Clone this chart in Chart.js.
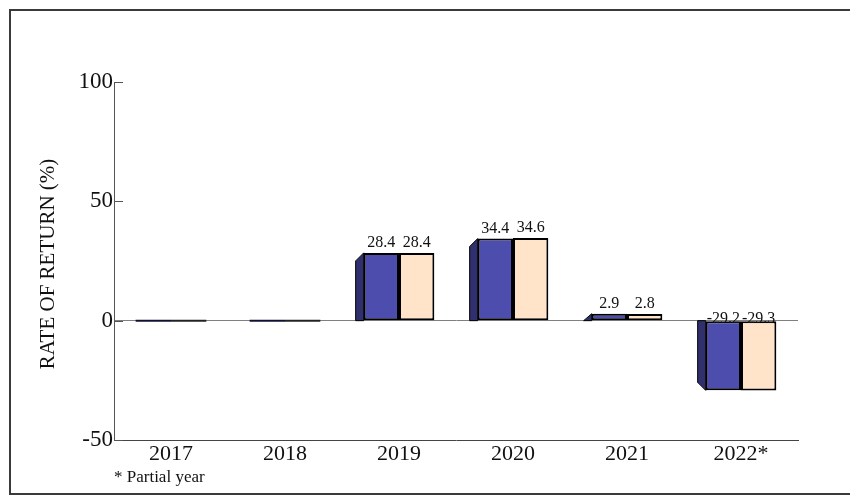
<!DOCTYPE html>
<html>
<head>
<meta charset="utf-8">
<script src="https://cdn.jsdelivr.net/npm/chart.js@4"></script>
<style>
	html, body { margin: 0; padding: 0; background: #fff; }
	#wrap { width: 850px; height: 496px; position: relative; }
</style>
</head>
<body>
<div id="wrap"><canvas id="myChart" width="850" height="496"></canvas></div>
<script>
const years = ['2017', '2018', '2019', '2020', '2021', '2022*'];
const fundReturns = [0, 0, 28.4, 34.4, 2.9, -29.2];
const indexReturns = [0, 0, 28.4, 34.6, 2.8, -29.3];
const yTicks = [-50, 0, 50, 100];

const serif = "'Liberation Serif', 'DejaVu Serif', serif";

// frame, axis title, inward tick marks, 3D side faces, value labels
const decor = {
	id: 'decor',
	beforeDraw(chart){
		const c = chart.ctx;
		c.save();
		c.strokeStyle = '#3a3a3a';
		c.lineWidth = 2;
		c.beginPath();
		c.moveTo(852, 10);
		c.lineTo(10, 10);
		c.lineTo(10, 494);
		c.lineTo(852, 494);
		c.stroke();

		c.translate(48, 264);
		c.rotate(-Math.PI / 2);
		c.font = '21px ' + serif;
		c.fillStyle = '#111';
		c.textAlign = 'center';
		c.textBaseline = 'middle';
		c.fillText('RATE OF RETURN (%)', 0, 0);
		c.restore();
	},
	afterDatasetsDraw(chart){
		const c = chart.ctx;
		const y = chart.scales.y;
		const area = chart.chartArea;
		const base = y.getPixelForValue(0);
		c.save();

		// tick marks pointing into the plot
		c.strokeStyle = '#555';
		c.lineWidth = 1;
		yTicks.forEach(v => {
			const py = Math.round(y.getPixelForValue(v)) + 0.5;
			c.beginPath();
			c.moveTo(area.left, py);
			c.lineTo(area.left + 9, py);
			c.stroke();
		});

		const meta0 = chart.getDatasetMeta(0);
		meta0.data.forEach((bar, i) => {
			const v = fundReturns[i];
			if (!v) return;
			const left = bar.x - bar.width / 2;
			const d = 8;
			const dir = v > 0 ? 1 : -1;
			c.fillStyle = '#30306e';
			c.strokeStyle = '#000';
			c.lineWidth = 1;
			c.beginPath();
			c.moveTo(left, bar.y);
			c.lineTo(left - d, bar.y + dir * Math.min(d, Math.abs(base - bar.y)));
			c.lineTo(left - d, base);
			c.lineTo(left, base);
			c.closePath();
			c.fill();
			c.stroke();
		});

		// zero-valued bars show as dark strokes on the zero line
		[0, 1].forEach(di => {
			const meta = chart.getDatasetMeta(di);
			const vals = di === 0 ? fundReturns : indexReturns;
			meta.data.forEach((bar, i) => {
				if (vals[i] !== 0) return;
				c.strokeStyle = di === 0 ? '#101030' : '#222';
				c.lineWidth = 2;
				c.beginPath();
				c.moveTo(bar.x - bar.width / 2, base);
				c.lineTo(bar.x + bar.width / 2, base);
				c.stroke();
			});
		});

		// value labels
		c.font = '16px ' + serif;
		c.fillStyle = '#111';
		c.textAlign = 'center';
		c.textBaseline = 'bottom';
		[0, 1].forEach(di => {
			const meta = chart.getDatasetMeta(di);
			const vals = di === 0 ? fundReturns : indexReturns;
			meta.data.forEach((bar, i) => {
				if (vals[i] === 0) return;
				const ty = vals[i] > 0 ? bar.y - 2 : base + 6;
				c.fillText(vals[i].toFixed(1), bar.x, ty);
			});
		});

		// footnote
		c.font = '17px ' + serif;
		c.textAlign = 'left';
		c.textBaseline = 'middle';
		c.fillText('* Partial year', 114, 478);
		c.restore();
	}
};

const ctx = document.getElementById('myChart');
const myChart = new Chart(ctx, {
	type: 'bar',
	data: {
		labels: years,
		datasets: [{
			label: 'Fund',
			data: fundReturns,
			backgroundColor: '#4d4dae',
			borderColor: '#000',
			borderWidth: 2,
			borderSkipped: false
		}, {
			label: 'Index',
			data: indexReturns,
			backgroundColor: '#ffe4c9',
			borderColor: '#000',
			borderWidth: 2,
			borderSkipped: false
		}]
	},
	options: {
		responsive: false,
		animation: false,
		devicePixelRatio: 1,
		layout: { padding: { left: 0, right: 52, top: 82, bottom: 0 } },
		datasets: { bar: { barPercentage: 1, categoryPercentage: 0.62 } },
		plugins: {
			legend: { display: false },
			tooltip: { enabled: false },
			title: { display: false }
		},
		scales: {
			x: {
				grid: { display: false, drawTicks: false },
				border: { display: true, color: '#444', width: 1 },
				ticks: {
					color: '#111',
					font: { family: serif, size: 22 },
					padding: 1,
					maxRotation: 0
				},
				afterFit(scale){ scale.height = 56; }
			},
			y: {
				min: -50,
				max: 100,
				afterBuildTicks(scale){
					scale.ticks = yTicks.map(v => ({ value: v }));
				},
				grid: {
					drawTicks: false,
					color: c => c.tick && c.tick.value === 0 ? '#808080' : 'rgba(0,0,0,0)',
					lineWidth: 1
				},
				border: { display: true, color: '#555', width: 1 },
				ticks: {
					color: '#111',
					font: { family: serif, size: 23 },
					padding: 1
				},
				afterFit(scale){ scale.width = 114; }
			}
		}
	},
	plugins: [decor]
});
</script>
</body>
</html>
